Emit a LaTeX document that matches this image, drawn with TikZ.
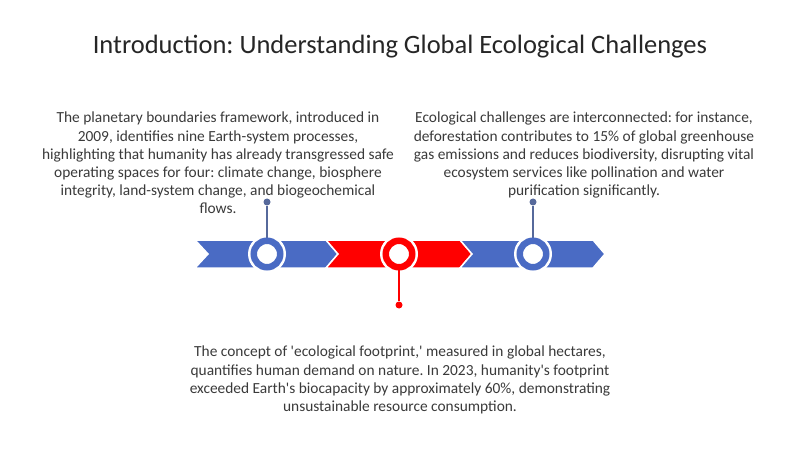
\documentclass[tikz,border=0pt]{standalone}
\usepackage{fontspec}
\setmainfont{Carlito}
\frenchspacing
\definecolor{segblue}{HTML}{4A6BC4}
\definecolor{segred}{HTML}{FF0000}
\definecolor{stemblue}{HTML}{56699B}
\definecolor{txt}{HTML}{3A3A3A}
\newcommand{\sq}{\textquotesingle}
\begin{document}
\begin{tikzpicture}[x=1pt,y=-1pt,
  seg/.style={draw=white,line width=1.5pt,line join=miter},
  halo/.style={circle,fill=white,minimum size=38pt,inner sep=0pt},
  ring/.style={circle,fill=white,draw=#1,line width=6.5pt,minimum size=26.5pt,inner sep=0pt},
  dotnode/.style={circle,fill=#1,minimum size=7pt,inner sep=0pt},
  stem/.style={draw=#1,line width=1.6pt},
  body/.style={font=\fontsize{15.4}{18.2}\selectfont,text=txt,align=center,inner sep=0pt}]
\useasboundingbox[fill=white] (0,0) rectangle (800,449);
% title
\node[font=\fontsize{26.5}{30}\selectfont,text=black!85,inner sep=0pt] (title) at (400,47) {Introduction: Understanding Global Ecological Challenges};
% segments
\fill[segblue,seg] (195,240) -- (326,240) -- (338,254) -- (326,268) -- (195,268) -- (208,254) -- cycle;
\fill[segred,seg] (326,240) -- (460,240) -- (472,254) -- (460,268) -- (326,268) -- (338,254) -- cycle;
\fill[segblue,seg] (460,240) -- (593,240) -- (605,254) -- (593,268) -- (460,268) -- (472,254) -- cycle;
% dots
\node[dotnode=stemblue] (d1) at (267,202) {};
\node[dotnode=segred] (d2) at (399,305) {};
\node[dotnode=stemblue] (d3) at (533,202) {};
% halos and rings
\node[halo] (h1) at (267,254) {};
\node[halo] (h2) at (399,254) {};
\node[halo] (h3) at (533,254) {};
\draw[stem=stemblue] (h1.center) -- (d1);
\draw[stem=segred] (h2.center) -- (d2);
\draw[stem=stemblue] (h3.center) -- (d3);
\node[ring=segblue] (c1) at (267,254) {};
\node[ring=segred] (c2) at (399,254) {};
\node[ring=segblue] (c3) at (533,254) {};
% texts
\node[body,anchor=north] (t1) at (218,112) {The planetary boundaries framework, introduced in\\2009, identifies nine Earth-system processes,\\highlighting that humanity has already transgressed safe\\operating spaces for four: climate change, biosphere\\integrity, land-system change, and biogeochemical\\flows.};
\node[body,anchor=north] (t2) at (584,112) {Ecological challenges are interconnected: for instance,\\deforestation contributes to 15\% of global greenhouse\\gas emissions and reduces biodiversity, disrupting vital\\ecosystem services like pollination and water\\purification significantly.};
\node[body,anchor=north] (t3) at (400,346) {The concept of \sq ecological footprint,\sq{} measured in global hectares,\\quantifies human demand on nature. In 2023, humanity\sq s footprint\\exceeded Earth\sq s biocapacity by approximately 60\%, demonstrating\\unsustainable resource consumption.};
\end{tikzpicture}
\end{document}
